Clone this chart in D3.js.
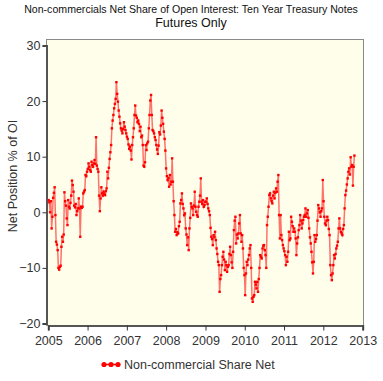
<!DOCTYPE html>
<html><head><meta charset="utf-8">
<script src="https://cdn.jsdelivr.net/npm/d3@7"></script>
<style>html,body{margin:0;padding:0;background:#fff;}svg{display:block;font-family:"Liberation Sans",Arial,sans-serif;}</style>
</head><body>
<svg id="chart" width="383" height="381"></svg>
<script>
const titleLine1 = "Non-commercials Net Share of Open Interest: Ten Year Treasury Notes";
const titleLine2 = "Futures Only";
const yLabel = "Net Position % of OI";
const legendLabel = "Non-commercial Share Net";
const firstWeek = "2005-01-04";
const yTicks = [30, 20, 10, 0, -10, -20];
const xTickYears = [2005, 2006, 2007, 2008, 2009, 2010, 2011, 2012, 2013];

const values2005 = [2.2,1.8,0.0,2.0,-2.9,-0.8,2.6,3.5,4.5,-0.5,-5.3,-5.8,-6.8,-10.0,-10.3,-9.8,-9.6,-6.2,-4.4,-5.3,
  -4.0,3.6,2.0,1.2,-1.1,-2.3,2.2,1.0,0.7,1.7,3.0,5.7,4.9,3.7,1.2,0.9,1.5,-0.5,0.2,0.7,
  2.5,0.7,-4.4,1.0,0.8,1.0,3.4,3.7,4.0,6.7,6.5,7.3];
const values2006 = [7.8,8.8,8.2,7.6,7.3,9.1,8.5,8.2,8.8,9.4,8.7,13.5,8.4,7.8,7.3,3.0,0.2,2.5,4.5,3.4,
  3.0,3.7,3.3,3.1,3.8,4.3,7.3,6.1,8.0,9.6,10.8,12.1,15.1,16.5,17.5,18.7,19.5,20.4,23.4,21.3,
  19.9,18.3,17.2,16.0,15.1,14.7,14.2,15.0,16.2,15.4,14.8,14.2];
const values2007 = [13.6,13.2,12.2,11.4,11.8,11.1,9.5,12.1,13.5,15.1,17.5,19.2,17.4,17.0,16.2,16.5,15.9,14.6,15.4,13.5,
  13.8,12.1,8.4,8.2,9.0,12.1,11.2,12.4,12.7,15.1,17.5,20.1,21.1,17.5,14.8,14.6,14.2,13.5,13.0,12.1,
  11.3,10.5,12.0,14.4,14.0,15.6,18.3,17.0,15.9,14.5,13.2,11.1];
const values2008 = [7.9,6.5,5.8,6.2,4.6,6.7,5.0,5.5,9.7,5.5,2.0,-0.5,-3.5,-3.0,-4.1,-3.6,-3.8,-2.5,-1.7,1.6,
  2.2,3.4,1.5,0.7,-0.5,-0.2,-2.9,-4.0,-5.9,-4.5,-6.8,-2.9,-1.0,1.6,1.0,0.7,-0.5,1.2,3.7,1.0,
  0.1,-0.5,-0.8,1.0,1.9,3.0,6.1,1.9,1.5,2.2,1.0,1.3,1.9];
const values2009 = [1.9,2.5,1.5,0.7,0.2,-0.5,-2.8,-4.4,-4.8,-5.9,-4.1,-4.5,-3.5,-5.0,-6.5,-7.5,-8.9,-9.5,-14.3,-12.0,
  -11.3,-9.5,-8.0,-7.1,-8.5,-10.4,-8.9,-9.5,-10.7,-9.8,-9.5,-7.5,-6.2,-7.7,-9.0,-10.0,-7.1,-3.2,-1.5,-0.8,
  -5.6,-4.0,-4.7,-3.8,-2.0,-0.5,-3.8,-5.3,-4.1,-6.5,-10.0,-11.3];
const values2010 = [-14.9,-11.0,-8.9,-9.5,-8.5,-7.7,-6.5,-5.9,-10.0,-15.5,-16.1,-15.2,-14.9,-12.5,-13.0,-13.7,-12.5,-14.3,-12.0,-10.0,
  -7.7,-8.0,-8.3,-6.5,-6.0,-5.9,-6.8,-7.7,-10.0,-2.3,-0.8,1.0,3.1,3.4,2.5,2.0,1.6,3.0,3.7,2.5,
  3.5,4.3,3.7,5.5,6.7,-0.5,-4.7,-0.5,-4.1,-5.0,-5.9,-6.5];
const values2011 = [-7.0,-7.7,-9.5,-8.0,-8.9,-7.1,-3.5,-5.0,-4.7,-0.8,-1.7,-2.5,-3.5,-2.9,-3.5,-4.7,-7.7,-5.6,-4.5,-3.2,
  -2.3,-0.5,-1.5,-2.9,-2.0,-1.4,-0.8,-0.5,0.7,-0.8,-0.2,0.4,-1.0,-2.9,-4.5,-5.6,-7.1,-9.0,-11.0,-8.9,
  -4.1,-5.3,-4.8,-4.1,-1.5,1.3,0.7,0.0,-0.8,0.2,0.7,5.8];
const values2012 = [2.0,-0.8,-2.0,-2.3,-1.5,-0.8,-1.4,-3.0,-4.1,-9.5,-11.3,-12.2,-11.0,-9.5,-7.7,-8.3,-7.5,-6.5,-6.0,-5.3,
  -2.9,-1.1,-2.9,-3.5,-3.8,-4.1,-3.0,-2.3,0.7,3.1,3.9,5.0,6.1,7.3,7.9,6.8,9.9,8.2,8.5,4.8,
  8.2,10.2];

const allValues = [].concat(values2005, values2006, values2007, values2008, values2009, values2010, values2011, values2012);
const start = d3.timeParse("%Y-%m-%d")(firstWeek);
const data = allValues.map((v, i) => ({date: d3.timeWeek.offset(start, i), value: v}));

const svg = d3.select("#chart");
const plot = {left: 46.5, right: 363.5, top: 39.5, bottom: 325.5};

const x = d3.scaleTime()
  .domain([new Date(2005, 0, 1), new Date(2013, 0, 1)])
  .range([48.3, 362.7]);
const y = d3.scaleLinear().domain([-20, 30]).range([323.5, 45.5]);

// titles
svg.append("text").attr("x", 191).attr("y", 13).attr("text-anchor", "middle")
  .attr("font-size", 10.6).attr("fill", "#111").text(titleLine1);
svg.append("text").attr("x", 191).attr("y", 27).attr("text-anchor", "middle")
  .attr("font-size", 12.5).attr("fill", "#111").text(titleLine2);

// plot background
svg.append("rect").attr("x", plot.left).attr("y", plot.top)
  .attr("width", plot.right - plot.left).attr("height", plot.bottom - plot.top)
  .attr("fill", "#FFFEEA").attr("stroke", "#8a8a8a").attr("stroke-width", 1);

// axes
const yAxis = svg.append("g").attr("transform", `translate(${plot.left},0)`)
  .call(d3.axisLeft(y).tickValues(yTicks).tickSize(4).tickPadding(2));
const xAxis = svg.append("g").attr("transform", `translate(0,${plot.bottom})`)
  .call(d3.axisBottom(x).tickValues(xTickYears.map(yr => new Date(yr, 0, 1)))
    .tickFormat(d3.timeFormat("%Y")).tickSize(5).tickPadding(6));
[yAxis, xAxis].forEach(g => {
  g.select(".domain").attr("stroke", "#555").attr("stroke-width", 2);
  g.selectAll(".tick line").attr("stroke", "#333");
  g.selectAll(".tick text").attr("font-size", 12.5).attr("fill", "#333")
    .attr("font-family", '"Liberation Sans",Arial,sans-serif');
});

// y label
svg.append("text").attr("transform", "translate(17,176) rotate(-90)")
  .attr("text-anchor", "middle").attr("font-size", 12.5).attr("fill", "#333").text(yLabel);

// series
const line = d3.line().x(d => x(d.date)).y(d => y(d.value));
svg.append("path").datum(data).attr("d", line)
  .attr("fill", "none").attr("stroke", "#ff0000").attr("stroke-opacity", 0.55).attr("stroke-width", 1.5);
svg.append("g").selectAll("rect").data(data).join("rect")
  .attr("x", d => x(d.date) - 1.2).attr("y", d => y(d.value) - 1.2)
  .attr("width", 2.4).attr("height", 2.4).attr("fill", "#ff0000");

// legend
const lg = svg.append("g");
const lgX = d3.scalePoint().domain([0, 1, 2]).range([104, 118]);
lg.append("line").attr("x1", lgX(0)).attr("x2", lgX(2)).attr("y1", 364.5).attr("y2", 364.5)
  .attr("stroke", "#ff0000").attr("stroke-width", 1.5);
lg.selectAll("circle").data([0, 1, 2]).join("circle")
  .attr("cx", d => lgX(d)).attr("cy", 364.5).attr("r", 2.6).attr("fill", "#ff0000");
lg.append("text").attr("x", 124).attr("y", 369).attr("font-size", 12.5).attr("fill", "#333").text(legendLabel);
</script>
</body></html>
